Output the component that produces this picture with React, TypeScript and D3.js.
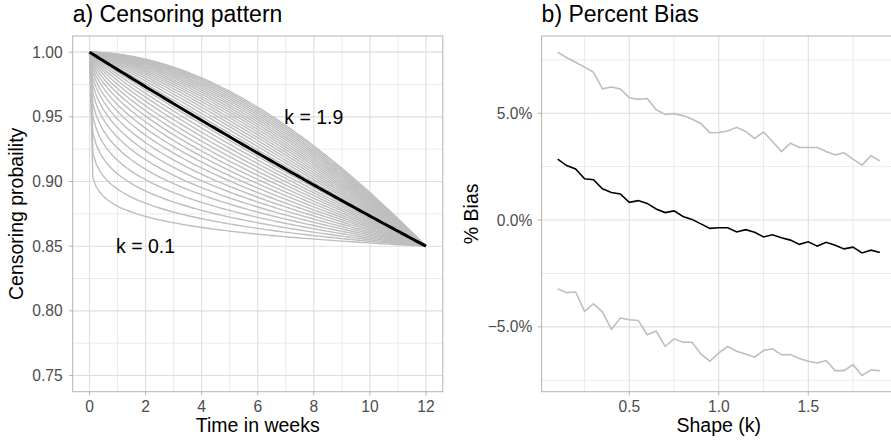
import React from 'react';
import * as d3 from 'd3';

// shape values (k) used both for the curves on the left and the x axis on the right
const shapeK = [
  0.1, 0.15, 0.2, 0.25, 0.3, 0.35, 0.4, 0.45, 0.5, 0.55, 0.6, 0.65, 0.7, 0.75, 0.8, 0.85, 0.9, 0.95, 1.0,
  1.05, 1.1, 1.15, 1.2, 1.25, 1.3, 1.35, 1.4, 1.45, 1.5, 1.55, 1.6, 1.65, 1.7, 1.75, 1.8, 1.85, 1.9,
];

// percent bias read from panel b)
const biasUpper = [
  7.86, 7.6, 7.39, 7.16, 6.92, 6.14, 6.23, 6.14, 5.73, 5.65, 5.69, 5.17, 4.94, 4.98, 4.89, 4.73, 4.51, 4.09, 4.1,
  4.17, 4.34, 4.15, 3.82, 4.12, 3.68, 3.21, 3.6, 3.4, 3.4, 3.4, 3.21, 3.05, 3.15, 2.85, 2.57, 3.01, 2.77,
];
const biasMean = [
  2.85, 2.55, 2.39, 1.93, 1.89, 1.46, 1.29, 1.22, 0.83, 0.91, 0.78, 0.52, 0.35, 0.43, 0.17, 0.03, -0.18, -0.39, -0.36,
  -0.36, -0.56, -0.45, -0.57, -0.79, -0.69, -0.83, -0.94, -1.14, -1.02, -1.22, -1.04, -1.18, -1.35, -1.27, -1.54, -1.41, -1.52,
];
const biasLower = [
  -3.21, -3.4, -3.37, -4.28, -3.92, -4.31, -5.12, -4.59, -4.67, -4.7, -5.37, -5.2, -5.91, -5.56, -5.72, -5.72, -6.27, -6.61, -6.22,
  -5.92, -6.14, -6.27, -6.42, -6.11, -6.03, -6.31, -6.3, -6.48, -6.61, -6.69, -6.58, -7.05, -7.05, -6.77, -7.28, -7.02, -7.05,
];

const weekTicks = [0, 2, 4, 6, 8, 10, 12];
const weekMinor = [1, 3, 5, 7, 9, 11];
const probTicks = [0.75, 0.8, 0.85, 0.9, 0.95, 1.0];
const probMinor = [0.775, 0.825, 0.875, 0.925, 0.975];
const shapeTicks = [0.5, 1.0, 1.5];
const shapeMinor = [0.25, 0.75, 1.25, 1.75];
const biasTicks = [-5, 0, 5];
const biasMinor = [-7.5, -2.5, 2.5, 7.5];

// censoring model: probability 0.85 at week 12, Weibull shape k
const endWeek = 12;
const endProb = 0.85;
const weeks = d3.range(101).map((i) => (i * endWeek) / 100);

const W = 891;
const H = 441;
const top = 36;
const bottom = 391.7;
const leftPanel = { x0: 72.7, x1: 442.8 };
const rightPanel = { x0: 541.6, x1: 896 }; // runs past the image edge, as in the original

const FONT = '"Liberation Sans", Arial, Helvetica, sans-serif';
const GRID = '#DEDEDE';
const BORDER = '#B3B3B3';
const TICKTXT = '#4D4D4D';
const LINEGRAY = '#BEBEBE';

// ggplot style 5% padding
const expand = (lo: number, hi: number) => {
  const p = (hi - lo) * 0.05;
  return [lo - p, hi + p];
};

const App = () => {
  const xL = d3.scaleLinear().domain(expand(0, 12)).range([leftPanel.x0, leftPanel.x1]);
  const yL = d3.scaleLinear().domain(expand(0.75, 1.0)).range([bottom, top]);

  const allBias = biasUpper.concat(biasMean, biasLower);
  const xR = d3.scaleLinear().domain(expand(0.1, 1.9)).range([rightPanel.x0, rightPanel.x1]);
  const yR = d3.scaleLinear().domain(expand(d3.min(allBias)!, d3.max(allBias)!)).range([bottom, top]);

  const curvePath = (k: number) => {
    const pts = weeks.map((t) => Math.pow(endProb, Math.pow(t / endWeek, k)));
    return d3
      .line<number>()
      .x((_, i) => xL(weeks[i]))
      .y((p) => yL(p))(pts);
  };

  const biasLine = d3
    .line<number>()
    .x((_, i) => xR(shapeK[i]))
    .y((v) => yR(v));

  const vGrid = (xs: number[], sc: any, w: number) =>
    xs.map((v) => (
      <line key={'v' + v} x1={sc(v)} x2={sc(v)} y1={top} y2={bottom} stroke={GRID} strokeWidth={w} />
    ));
  const hGrid = (ys: number[], sc: any, x0: number, x1: number, w: number) =>
    ys.map((v) => (
      <line key={'h' + v} x1={x0} x2={x1} y1={sc(v)} y2={sc(v)} stroke={GRID} strokeWidth={w} />
    ));

  return (
    <svg
      width={W}
      height={H}
      style={{ position: 'absolute', left: 0, top: 0, fontFamily: FONT }}
    >
      <rect width={W} height={H} fill="#fff" />

      {/* panel a */}
      <g>
        {vGrid(weekMinor, xL, 0.6)}
        {hGrid(probMinor, yL, leftPanel.x0, leftPanel.x1, 0.6)}
        {vGrid(weekTicks, xL, 1.1)}
        {hGrid(probTicks, yL, leftPanel.x0, leftPanel.x1, 1.1)}
        {shapeK
          .filter((k) => k !== 1)
          .map((k) => (
            <path key={k} d={curvePath(k) || ''} fill="none" stroke={LINEGRAY} strokeWidth={1.4} />
          ))}
        <path d={curvePath(1) || ''} fill="none" stroke="#000" strokeWidth={3} />
        <rect
          x={leftPanel.x0}
          y={top}
          width={leftPanel.x1 - leftPanel.x0}
          height={bottom - top}
          fill="none"
          stroke={BORDER}
          strokeWidth={1}
        />
        <text x={xL(8)} y={yL(0.95)} dy="0.35em" textAnchor="middle" fontSize={19.5} fill="#000">
          k = 1.9
        </text>
        <text x={xL(2)} y={yL(0.85)} dy="0.35em" textAnchor="middle" fontSize={19.5} fill="#000">
          k = 0.1
        </text>
        {weekTicks.map((t) => (
          <g key={t}>
            <line x1={xL(t)} x2={xL(t)} y1={bottom} y2={bottom + 3.7} stroke={BORDER} />
            <text x={xL(t)} y={411.7} textAnchor="middle" fontSize={15.6} fill={TICKTXT}>
              {t}
            </text>
          </g>
        ))}
        {probTicks.map((p) => (
          <g key={p}>
            <line x1={leftPanel.x0 - 3.7} x2={leftPanel.x0} y1={yL(p)} y2={yL(p)} stroke={BORDER} />
            <text x={leftPanel.x0 - 10} y={yL(p)} dy="0.35em" textAnchor="end" fontSize={15.6} fill={TICKTXT}>
              {p.toFixed(2)}
            </text>
          </g>
        ))}
        <text x={(leftPanel.x0 + leftPanel.x1) / 2} y={432} textAnchor="middle" fontSize={19.5}>
          Time in weeks
        </text>
        <text
          transform={`translate(22.5,${(top + bottom) / 2}) rotate(-90)`}
          textAnchor="middle"
          fontSize={19.5}
        >
          Censoring probaility
        </text>
        <text x={leftPanel.x0} y={21.7} fontSize={23}>
          a) Censoring pattern
        </text>
      </g>

      {/* panel b */}
      <g>
        {vGrid(shapeMinor, xR, 0.6)}
        {hGrid(biasMinor, yR, rightPanel.x0, rightPanel.x1, 0.6)}
        {vGrid(shapeTicks, xR, 1.1)}
        {hGrid(biasTicks, yR, rightPanel.x0, rightPanel.x1, 1.1)}
        <path d={biasLine(biasUpper) || ''} fill="none" stroke={LINEGRAY} strokeWidth={1.6} />
        <path d={biasLine(biasLower) || ''} fill="none" stroke={LINEGRAY} strokeWidth={1.6} />
        <path d={biasLine(biasMean) || ''} fill="none" stroke="#000" strokeWidth={1.6} />
        <rect
          x={rightPanel.x0}
          y={top}
          width={rightPanel.x1 - rightPanel.x0}
          height={bottom - top}
          fill="none"
          stroke={BORDER}
          strokeWidth={1}
        />
        {shapeTicks.map((s) => (
          <g key={s}>
            <line x1={xR(s)} x2={xR(s)} y1={bottom} y2={bottom + 3.7} stroke={BORDER} />
            <text x={xR(s)} y={411.7} textAnchor="middle" fontSize={15.6} fill={TICKTXT}>
              {s.toFixed(1)}
            </text>
          </g>
        ))}
        {biasTicks.map((b) => (
          <g key={b}>
            <line x1={rightPanel.x0 - 3.7} x2={rightPanel.x0} y1={yR(b)} y2={yR(b)} stroke={BORDER} />
            <text x={rightPanel.x0 - 9.3} y={yR(b)} dy="0.35em" textAnchor="end" fontSize={15.6} fill={TICKTXT}>
              {(b < 0 ? '\u2212' : '') + Math.abs(b).toFixed(1) + '%'}
            </text>
          </g>
        ))}
        <text x={(rightPanel.x0 + rightPanel.x1) / 2} y={432} textAnchor="middle" fontSize={19.5}>
          Shape (k)
        </text>
        <text
          transform={`translate(478,${(top + bottom) / 2}) rotate(-90)`}
          textAnchor="middle"
          fontSize={19.5}
        >
          % Bias
        </text>
        <text x={rightPanel.x0} y={21.7} fontSize={23}>
          b) Percent Bias
        </text>
      </g>
    </svg>
  );
};

export default App;
